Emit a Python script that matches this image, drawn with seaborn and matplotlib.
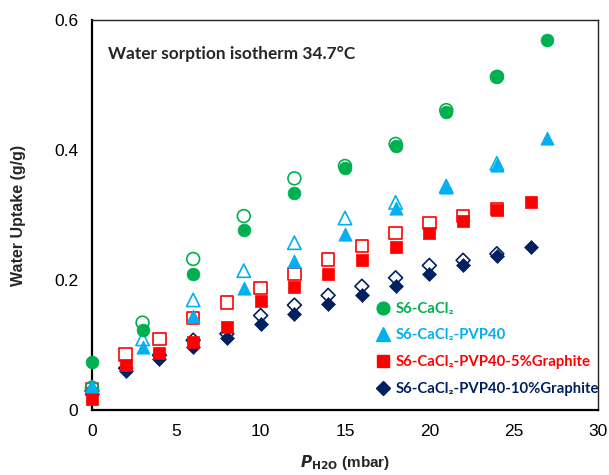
import matplotlib
matplotlib.use("Agg")
import matplotlib.pyplot as plt
import seaborn as sns
import numpy as np
from matplotlib.lines import Line2D

# ---- data ----
x_a = [0, 3, 6, 9, 12, 15, 18, 21, 24, 27]
x_a_des = [0, 3, 6, 9, 12, 15, 18, 21, 24]
x_b = [0, 2, 4, 6, 8, 10, 12, 14, 16, 18, 20, 22, 24, 26]
x_b_des = [0, 2, 4, 6, 8, 10, 12, 14, 16, 18, 20, 22, 24]

green_ads = [0.075, 0.123, 0.210, 0.278, 0.335, 0.373, 0.407, 0.459, 0.514, 0.570]
green_des = [0.035, 0.135, 0.233, 0.299, 0.357, 0.376, 0.410, 0.462, 0.513]
blue_ads = [0.038, 0.097, 0.145, 0.189, 0.230, 0.272, 0.312, 0.343, 0.377, 0.419]
blue_des = [0.035, 0.110, 0.170, 0.215, 0.258, 0.296, 0.320, 0.345, 0.380]
red_ads = [0.017, 0.070, 0.089, 0.105, 0.128, 0.168, 0.190, 0.210, 0.231, 0.251, 0.273, 0.292, 0.308, 0.321]
red_des = [0.033, 0.086, 0.110, 0.142, 0.166, 0.188, 0.210, 0.232, 0.253, 0.273, 0.288, 0.299, 0.310]
navy_ads = [0.025, 0.060, 0.079, 0.097, 0.112, 0.133, 0.149, 0.164, 0.178, 0.192, 0.210, 0.223, 0.238, 0.251]
navy_des = [0.030, 0.065, 0.085, 0.108, 0.118, 0.146, 0.162, 0.177, 0.191, 0.204, 0.223, 0.231, 0.241]

labels = ["S6-CaCl₂", "S6-CaCl₂-PVP40", "S6-CaCl₂-PVP40-5%Graphite", "S6-CaCl₂-PVP40-10%Graphite"]
colors = ["#00B050", "#00B0F0", "#FF0000", "#002060"]
x_ticks = [0, 5, 10, 15, 20, 25, 30]
y_ticks = [0, 0.2, 0.4, 0.6]
y_ticklabels = ["0", "0.2", "0.4", "0.6"]

sns.set_theme(style="white")
plt.rcParams["font.family"] = ["Liberation Sans", "DejaVu Sans"]

fig = plt.figure(figsize=(6.09, 4.75), dpi=100)
ax = fig.add_axes([0.151, 0.136, 0.831, 0.821])

series = [
    (x_b, navy_ads, x_b_des, navy_des, "D", 50, colors[3]),
    (x_b, red_ads, x_b_des, red_des, "s", 80, colors[2]),
    (x_a, blue_ads, x_a_des, blue_des, "^", 92, colors[1]),
    (x_a, green_ads, x_a_des, green_des, "o", 85, colors[0]),
]
for xa, ya, xd, yd, m, s, c in series:
    sns.scatterplot(x=xd, y=yd, marker=m, s=s, fc="none", ec=c, linewidth=1.2,
                    ax=ax, zorder=3, clip_on=False)
    sns.scatterplot(x=xa, y=ya, marker=m, s=s, color=c, edgecolor=c, linewidth=0.5,
                    ax=ax, zorder=4, clip_on=False)

ax.set_xlim(0, 30)
ax.set_ylim(0, 0.6)
ax.set_xticks(x_ticks)
ax.set_xticklabels([str(t) for t in x_ticks])
ax.set_yticks(y_ticks)
ax.set_yticklabels(y_ticklabels)
ax.tick_params(direction="in", length=4, width=1.2, colors="black", labelsize=12.5, pad=10)

for side in ["left", "bottom"]:
    ax.spines[side].set_linewidth(1.6)
    ax.spines[side].set_color("black")
for side in ["top", "right"]:
    ax.spines[side].set_linewidth(1.0)
    ax.spines[side].set_color("#222222")
    ax.spines[side].set_visible(True)

ax.set_ylabel("Water Uptake (g/g)", fontsize=11.5, fontweight="bold")
ax.yaxis.set_label_coords(-0.13, 0.5)
ax.set_xlabel(r"$\mathbfit{P}_{\mathbf{H2O}}$ (mbar)", fontsize=11, fontweight="bold", labelpad=10)

ax.text(0.031, 0.915, "Water sorption isotherm 34.7°C", transform=ax.transAxes,
        fontsize=12.4, fontweight="bold", family=["Lato", "DejaVu Sans"], va="center", ha="left")

handles = []
for m, ms, c in [("o", 9.2, colors[0]), ("^", 9.6, colors[1]), ("s", 9.0, colors[2]), ("D", 7.0, colors[3])]:
    handles.append(Line2D([], [], marker=m, markersize=ms, color=c, linestyle="none"))
leg = ax.legend(handles, labels, loc="center left", bbox_to_anchor=(0.545, 0.158),
                frameon=False, borderpad=0, handlelength=1.0, handletextpad=0.35,
                labelspacing=0.85,
                prop={"family": ["Lato", "DejaVu Sans"], "weight": "bold", "size": 10.7})
for t, c in zip(leg.get_texts(), colors):
    t.set_color(c)

fig.savefig("out.png", dpi=100)
